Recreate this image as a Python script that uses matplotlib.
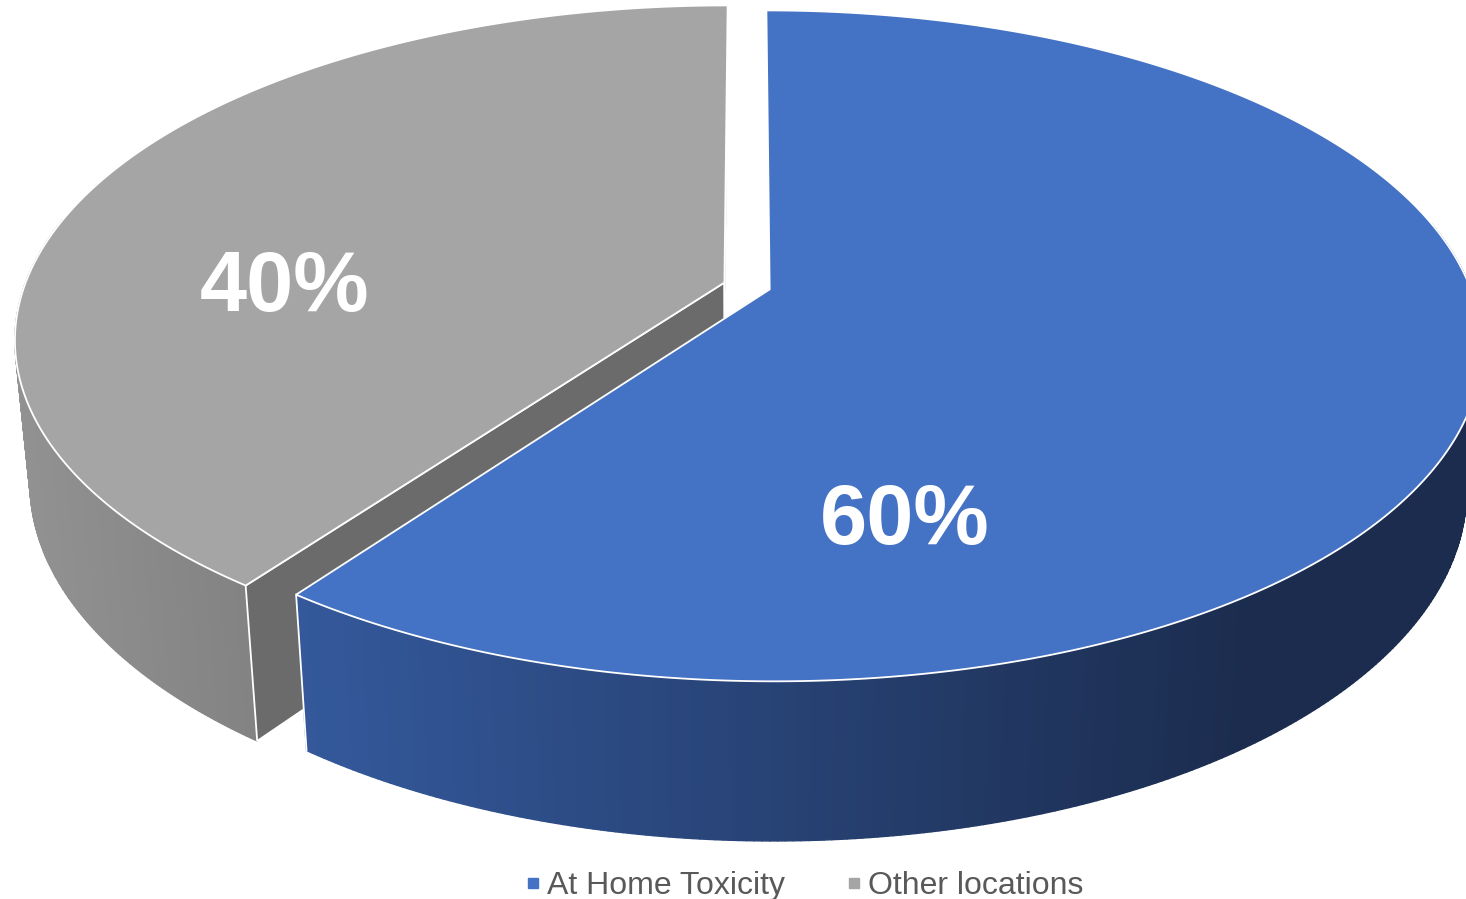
import numpy as np
import matplotlib
matplotlib.use("Agg")
import matplotlib.pyplot as plt
from matplotlib.patches import Polygon
from matplotlib.collections import PolyCollection
from matplotlib.lines import Line2D
from matplotlib.colors import LinearSegmentedColormap

plt.rcParams['font.family'] = ['Liberation Sans', 'DejaVu Sans']

labels = ["At Home Toxicity", "Other locations"]
values = [60, 40]
top_colors = ["#4472C4", "#A5A5A5"]
side_colors = [["#34599c", "#1b2c4e"], ["#929292", "#838383"]]
side_ranges = [(290, 1250), (20, 250)]
cut_color = "#6b6b6b"

# view set-up (pixel space, y down)
W, H = 1466, 899
A = 700.0
sin_phi = 0.464
cos_phi = np.sqrt(1 - sin_phi ** 2)
k = 0.168
D0 = cos_phi / k
h = 0.232
cx, cy = 747, 286
explode = 0.034


def proj(u, v, z):
    w = 1 + k * v - z * sin_phi / D0
    yc = v * sin_phi + z * cos_phi
    return cx + A * u / w, cy - A * yc / w


fig = plt.figure(figsize=(W / 100, H / 100), dpi=100)
ax = fig.add_axes([0, 0, 1, 1])
ax.set_xlim(0, W)
ax.set_ylim(H, 0)
ax.axis("off")

total = sum(values)
start = 90.0
slices = []
for val in values:
    sweep = 360.0 * val / total
    slices.append((start, start - sweep))
    start -= sweep

order = [1, 0]  # gray behind, blue in front
z = 1
for i in order:
    t0, t1 = slices[i]
    mid = np.radians((t0 + t1) / 2)
    du, dv = explode * np.cos(mid), explode * np.sin(mid)
    ts = np.radians(np.linspace(t0, t1, 400))
    us, vs = du + np.cos(ts), dv + np.sin(ts)
    top = np.array([proj(u, v, 0) for u, v in zip(us, vs)])
    bot = np.array([proj(u, v, -h) for u, v in zip(us, vs)])
    ctop = proj(du, dv, 0)
    cbot = proj(du, dv, -h)

    # outer wall, front part only, painted far to near
    cmap = LinearSegmentedColormap.from_list("g", side_colors[i])
    x0, x1 = side_ranges[i]
    quads, cols, depth = [], [], []
    for j in range(len(ts) - 1):
        if np.sin(ts[j]) > 0.2 and np.sin(ts[j + 1]) > 0.2:
            continue
        q = [top[j], top[j + 1], bot[j + 1], bot[j]]
        xm = np.mean([p[0] for p in q])
        quads.append(q)
        cols.append(cmap(np.clip((xm - x0) / (x1 - x0), 0, 1)))
        depth.append(vs[j])
    idx = np.argsort(depth)[::-1]
    quads = [quads[n] for n in idx]
    cols = [cols[n] for n in idx]
    ax.add_collection(PolyCollection(quads, facecolors=cols, edgecolors=cols,
                                     linewidths=1.0, zorder=z))
    z += 1
    if i == 1:
        for j in (0, -1):
            quad = [ctop, top[j], bot[j], cbot]
            ax.add_patch(Polygon(quad, closed=True, facecolor=cut_color,
                                 edgecolor="white", lw=1.3, zorder=z))
    else:
        ax.plot([top[-1][0], bot[-1][0]], [top[-1][1], bot[-1][1]],
                color="white", lw=1.3, zorder=z)
    z += 1
    ax.add_patch(Polygon(np.vstack([[ctop], top]), closed=True,
                         facecolor=top_colors[i], edgecolor="white",
                         lw=1.3, zorder=z))
    z += 1

# data labels
label_pos = [(905, 522), (285, 289)]
for i, val in enumerate(values):
    ax.text(label_pos[i][0], label_pos[i][1], f"{val}%", color="white",
            fontsize=61, fontweight="bold", ha="center", va="center",
            zorder=20)

handles = [Line2D([], [], marker="s", ls="none", color=c, markersize=7)
           for c in top_colors]
ax.legend(handles, labels, loc="lower center", bbox_to_anchor=(0.547, -0.034),
          ncol=2, frameon=False, fontsize=23, labelcolor="#595959",
          handletextpad=0.05, columnspacing=1.75, handlelength=0.8)

fig.savefig("out.png", dpi=100)
